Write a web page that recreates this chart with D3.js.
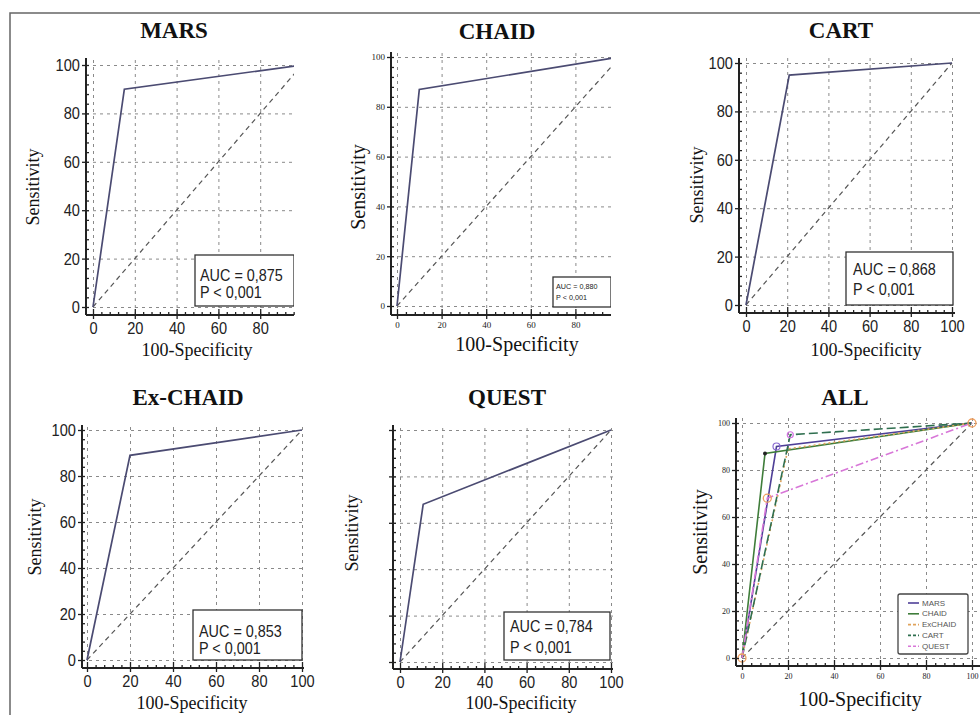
<!DOCTYPE html>
<html>
<head>
<meta charset="utf-8">
<title>ROC curves</title>
<script src="https://d3js.org/d3.v7.min.js"></script>
<style>
  body { margin: 0; background: #fff; }
  .grid line { stroke: #8a8a8a; stroke-width: 1; stroke-dasharray: 3,4; }
  .grid path { display: none; }
  .ax path { display: none; }
  .ax line { stroke: #222; stroke-width: 1.3; }
</style>
</head>
<body>
<div id="chart"></div>
<script>
// ---- data ----
const panelTitles = ["MARS", "CHAID", "CART", "Ex-CHAID", "QUEST", "ALL"];
const majorTicks = [0, 20, 40, 60, 80, 100];

const marsX = [0, 15, 100],    marsY = [0, 90, 100];
const chaidX = [0, 10, 100],   chaidY = [0, 87, 100];
const cartX = [0, 21, 100],    cartY = [0, 95, 100];
const exchaidX = [0, 20, 100], exchaidY = [0, 89, 100];
const questX = [0, 11, 100],   questY = [0, 68, 100];
const diagX = [0, 100],        diagY = [0, 100];

const aucLabels = ["AUC = 0,875", "AUC = 0,880", "AUC = 0,868", "AUC = 0,853", "AUC = 0,784"];
const pLabel = "P < 0,001";
const legendNames = ["MARS", "CHAID", "ExCHAID", "CART", "QUEST"];

const curves = [[marsX, marsY], [chaidX, chaidY], [cartX, cartY], [exchaidX, exchaidY], [questX, questY]];
// order of curves in the ALL panel follows the legend
const allCurves = [[marsX, marsY], [chaidX, chaidY], [exchaidX, exchaidY], [cartX, cartY], [questX, questY]];

// ---- look ----
const SANS = "'Liberation Sans',Arial,sans-serif";
const SERIF = "'Liberation Serif','Times New Roman',serif";
const rocColor = "#4b4b72";
const allStyles = [
  {color: "#4e3f97", dash: null, w: 1.6},
  {color: "#3f7d3a", dash: null, w: 1.6},
  {color: "#e0a35c", dash: "2,3", w: 1.6},
  {color: "#2f6f4f", dash: "9,4", w: 1.6},
  {color: "#d877d8", dash: "8,3,2,3", w: 1.6}
];

const layout = [
  {x0: 93, x100: 302, y0: 307, y100: 65, axX: 86, axY: 315, right: 294, top: 58,
   title: [174, 38], ylab: [33, 187, 18], xlab: [197, 356, 18], tick: [SANS, 17, 0.86], yLabels: true,
   box: {x: 195, y: 255, w: 99, h: 51, tx: 200, b1: 281, b2: 298, size: 16}},
  {x0: 397, x100: 620, y0: 306, y100: 57, axX: 391, axY: 315, right: 611, top: 52,
   title: [497, 39], ylab: [358, 187, 20], xlab: [517, 351, 20], tick: [SERIF, 9, 1], yLabels: true,
   box: {x: 553, y: 277, w: 58, h: 30, tx: 556, b1: 289, b2: 300, size: 8}},
  {x0: 746, x100: 952, y0: 305, y100: 63, axX: 739, axY: 313, right: 955, top: 58,
   title: [841, 38], ylab: [697, 185, 18], xlab: [866, 356, 18], tick: [SANS, 17, 0.86], yLabels: true,
   box: {x: 846, y: 252, w: 107, h: 53, tx: 853, b1: 275, b2: 295, size: 16}},
  {x0: 87, x100: 302, y0: 660, y100: 430, axX: 82, axY: 668, right: 304, top: 425,
   title: [188, 405], ylab: [35, 537, 18], xlab: [192, 709, 18], tick: [SANS, 17, 0.86], yLabels: true,
   box: {x: 193, y: 610, w: 109, h: 50, tx: 199, b1: 637, b2: 654, size: 16}},
  {x0: 400, x100: 611, y0: 662, y100: 430, axX: 393, axY: 669, right: 613, top: 425,
   title: [507, 405], ylab: [352, 533, 18], xlab: [521, 709, 18], tick: [SANS, 17, 0.86], yLabels: false,
   box: {x: 504, y: 612, w: 106, h: 48, tx: 510, b1: 632, b2: 653, size: 16}},
  {x0: 742, x100: 972, y0: 658, y100: 423, axX: 736, axY: 666, right: 980, top: 418,
   title: [845, 405], ylab: [700, 532, 20], xlab: [860, 706, 20], tick: [SERIF, 8, 1], yLabels: true,
   legend: {x: 898, y: 594, w: 70, h: 60}}
];

const svg = d3.select("#chart").append("svg")
  .attr("width", 980)
  .attr("height", 715);

// frame of the figure
svg.append("path")
  .attr("d", "M10,715 L10,13 L980,13")
  .attr("fill", "none")
  .attr("stroke", "#666")
  .attr("stroke-width", 1.5);

const line = d3.line();

layout.forEach((L, i) => {
  const g = svg.append("g");
  const x = d3.scaleLinear().domain([0, 100]).range([L.x0, L.x100]);
  const y = d3.scaleLinear().domain([0, 100]).range([L.y0, L.y100]);
  const clipId = "clip" + i;

  svg.append("clipPath").attr("id", clipId)
    .append("rect")
    .attr("x", L.axX).attr("y", L.top - 4)
    .attr("width", L.right - L.axX).attr("height", L.axY - L.top + 4);

  const inner = g.append("g").attr("clip-path", `url(#${clipId})`);

  // grid
  inner.append("g").attr("class", "grid")
    .attr("transform", `translate(0,${L.axY})`)
    .call(d3.axisBottom(x).tickValues(majorTicks).tickSize(-(L.axY - L.top)).tickFormat(""));
  inner.append("g").attr("class", "grid")
    .attr("transform", `translate(${L.axX},0)`)
    .call(d3.axisLeft(y).tickValues(majorTicks).tickSize(-(L.right - L.axX)).tickFormat(""));

  // diagonal reference
  inner.append("path")
    .attr("d", line(diagX.map((d, k) => [x(d), y(diagY[k])])))
    .attr("fill", "none")
    .attr("stroke", "#555")
    .attr("stroke-width", 1.2)
    .attr("stroke-dasharray", "5,4");

  if (i < 5) {
    const [cx, cy] = curves[i];
    inner.append("path")
      .attr("d", line(cx.map((d, k) => [x(d), y(cy[k])])))
      .attr("fill", "none")
      .attr("stroke", rocColor)
      .attr("stroke-width", 1.7);

    const b = L.box;
    inner.append("rect")
      .attr("x", b.x).attr("y", b.y).attr("width", b.w).attr("height", b.h)
      .attr("fill", "#fff").attr("stroke", "#333").attr("stroke-width", 1.3);
    [aucLabels[i], pLabel].forEach((t, k) => {
      g.append("text")
        .attr("transform", `translate(${b.tx},${k ? b.b2 : b.b1}) scale(0.9,1)`)
        .style("font-family", SANS).style("font-size", b.size + "px").attr("fill", "#222")
        .text(t);
    });
  } else {
    allCurves.forEach(([cx, cy], k) => {
      const s = allStyles[k];
      inner.append("path")
        .attr("d", line(cx.map((d, j) => [x(d), y(cy[j])])))
        .attr("fill", "none")
        .attr("stroke", s.color)
        .attr("stroke-width", s.w)
        .attr("stroke-dasharray", s.dash);
    });
    // point markers
    inner.append("circle").attr("cx", x(marsX[1])).attr("cy", y(marsY[1])).attr("r", 3.5)
      .attr("fill", "none").attr("stroke", "#8a6ad0").attr("stroke-width", 1.2);
    inner.append("circle").attr("cx", x(chaidX[1])).attr("cy", y(chaidY[1])).attr("r", 2)
      .attr("fill", "#222");
    inner.append("circle").attr("cx", x(cartX[1])).attr("cy", y(cartY[1])).attr("r", 3)
      .attr("fill", "none").attr("stroke", "#d070e0").attr("stroke-width", 1.2);
    inner.selectAll(".qm").data(questX).enter().append("circle")
      .attr("cx", d => x(d)).attr("cy", (d, k) => y(questY[k])).attr("r", 4)
      .attr("fill", "none").attr("stroke", "#f0a060").attr("stroke-width", 1.3);

    const lg = L.legend;
    g.append("rect").attr("x", lg.x).attr("y", lg.y).attr("width", lg.w).attr("height", lg.h)
      .attr("fill", "#fff").attr("stroke", "#444").attr("stroke-width", 1.3).attr("rx", 2);
    legendNames.forEach((name, k) => {
      const s = allStyles[k];
      const ly = lg.y + 9 + k * 10.8;
      g.append("line").attr("x1", lg.x + 10).attr("x2", lg.x + 21).attr("y1", ly).attr("y2", ly)
        .attr("stroke", s.color).attr("stroke-width", 1.6)
        .attr("stroke-dasharray", s.dash ? "3,2" : null);
      g.append("text").attr("x", lg.x + 24).attr("y", ly + 2.5)
        .style("font-family", SANS).style("font-size", "8px").attr("fill", "#555")
        .text(name);
    });
  }

  // axis lines
  g.append("line").attr("x1", L.axX).attr("x2", L.axX).attr("y1", L.top).attr("y2", L.axY)
    .attr("stroke", "#222").attr("stroke-width", 2);
  g.append("line").attr("x1", L.axX).attr("x2", L.right).attr("y1", L.axY).attr("y2", L.axY)
    .attr("stroke", "#222").attr("stroke-width", 2);

  const xVisible = majorTicks.filter(t => x(t) <= L.right + 1);
  const minor = d3.range(0, 101, 4).filter(t => t % 20 !== 0);
  const xMinor = minor.filter(t => x(t) <= L.right);

  // x axis: major ticks crossing, minor inward
  const xa = g.append("g").attr("class", "ax").attr("transform", `translate(0,${L.axY})`)
    .call(d3.axisBottom(x).tickValues(xVisible).tickSizeInner(4).tickSizeOuter(0)
      .tickPadding(3).tickFormat(d3.format("d")));
  xa.selectAll("text").style("font-family", L.tick[0]).style("font-size", L.tick[1] + "px")
    .attr("fill", "#222").attr("transform", `scale(${L.tick[2]},1)`);
  g.append("g").attr("class", "ax").attr("transform", `translate(0,${L.axY})`)
    .call(d3.axisBottom(x).tickValues(xVisible).tickSize(-6).tickFormat(""));
  g.append("g").attr("class", "ax").attr("transform", `translate(0,${L.axY})`)
    .call(d3.axisBottom(x).tickValues(xMinor).tickSize(-3).tickFormat(""));

  // y axis
  const ya = g.append("g").attr("class", "ax").attr("transform", `translate(${L.axX},0)`)
    .call(d3.axisLeft(y).tickValues(majorTicks).tickSizeInner(4).tickSizeOuter(0)
      .tickPadding(L.tick[1] > 10 ? 3 : 2).tickFormat(L.yLabels ? d3.format("d") : ""));
  ya.selectAll("text").style("font-family", L.tick[0]).style("font-size", L.tick[1] + "px")
    .attr("fill", "#222").attr("transform", `scale(${L.tick[2]},1)`);
  g.append("g").attr("class", "ax").attr("transform", `translate(${L.axX},0)`)
    .call(d3.axisLeft(y).tickValues(majorTicks).tickSize(-3).tickFormat(""));
  g.append("g").attr("class", "ax").attr("transform", `translate(${L.axX},0)`)
    .call(d3.axisLeft(y).tickValues(minor).tickSize(-3).tickFormat(""));

  // titles
  g.append("text").attr("x", L.title[0]).attr("y", L.title[1]).attr("text-anchor", "middle")
    .style("font-family", SERIF).style("font-size", "23px").style("font-weight", "bold").attr("fill", "#111")
    .text(panelTitles[i]);
  g.append("text")
    .attr("transform", `translate(${L.ylab[0]},${L.ylab[1]}) rotate(-90)`)
    .attr("text-anchor", "middle").attr("dy", "0.35em")
    .style("font-family", SERIF).style("font-size", L.ylab[2] + "px").attr("fill", "#111")
    .text("Sensitivity");
  g.append("text").attr("x", L.xlab[0]).attr("y", L.xlab[1]).attr("text-anchor", "middle")
    .style("font-family", SERIF).style("font-size", L.xlab[2] + "px").attr("fill", "#111")
    .text("100-Specificity");
});
</script>
</body>
</html>
